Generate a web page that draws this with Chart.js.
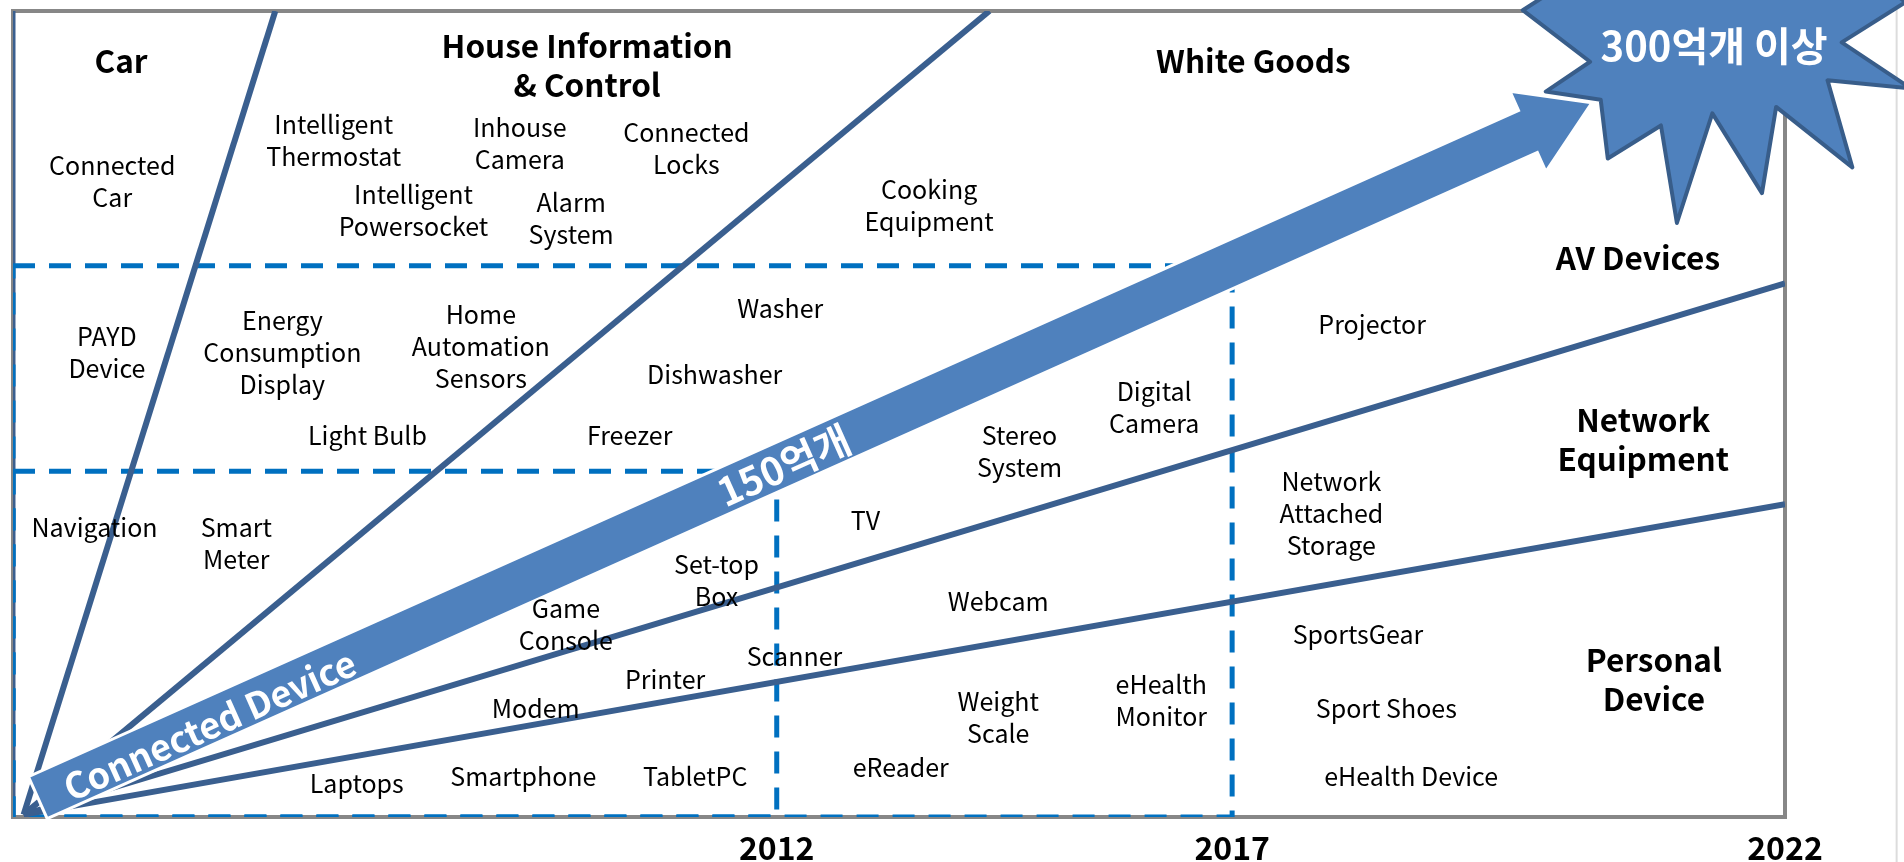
<!DOCTYPE html>
<html>
<head>
<meta charset="utf-8">
<script src="https://cdn.jsdelivr.net/npm/chart.js@4.4.1/dist/chart.umd.min.js"></script>
<style>
  html, body { margin: 0; padding: 0; background: #fff; }
  #wrap { width: 1904px; height: 862px; }
</style>
</head>
<body>
<div id="wrap"><canvas id="myChart"></canvas></div>
<script>
// both axes run 0..100 across the frame
const yearLabels = ['2012', '2017', '2022'];
const yearPos = [43.1, 68.8, 100];

// separator lines of the fan, from the common origin
const fanOrigin = [0.6, 0.3];
const fanEndX = [14.8, 55.1, 100, 100];
const fanEndY = [100, 100, 66.2, 38.8];

// dashed boxes (2012 and 2017 scope)
const boxTop = [68.4, 42.9];
const boxRight = [68.8, 43.1];

// segment titles
const segmentNames = ['Car', 'House Information\n& Control', 'White Goods', 'AV Devices', 'Network\nEquipment', 'Personal\nDevice'];
const segmentX = [6.1, 32.4, 70.0, 91.7, 92.0, 92.6];
const segmentY = [93.8, 93.2, 93.8, 69.4, 46.8, 17.0];

// devices
const deviceNames = [
  'Connected\nCar', 'Intelligent\nThermostat', 'Inhouse\nCamera', 'Connected\nLocks',
  'Intelligent\nPowersocket', 'Alarm\nSystem', 'Cooking\nEquipment', 'PAYD\nDevice',
  'Energy\nConsumption\nDisplay', 'Home\nAutomation\nSensors', 'Washer', 'Dishwasher',
  'Light Bulb', 'Freezer', 'Stereo\nSystem', 'Digital\nCamera', 'Projector',
  'Navigation', 'Smart\nMeter', 'TV', 'Set-top\nBox', 'Webcam', 'Network\nAttached\nStorage',
  'Game\nConsole', 'Printer', 'Scanner', 'Modem', 'SportsGear', 'Weight\nScale',
  'eHealth\nMonitor', 'Sport Shoes', 'Laptops', 'Smartphone', 'TabletPC', 'eReader', 'eHealth Device'
];
const deviceX = [
  5.6, 18.1, 28.6, 38.0,
  22.6, 31.5, 51.7, 5.3,
  15.2, 26.4, 43.3, 39.6,
  20.0, 34.8, 56.8, 64.4, 76.7,
  4.6, 12.6, 48.1, 39.7, 55.6, 74.4,
  31.2, 36.8, 44.1, 29.5, 75.9, 55.6,
  64.8, 77.5, 19.4, 28.8, 38.5, 50.1, 78.9
];
const deviceY = [
  78.9, 83.9, 83.6, 83.0,
  75.3, 74.3, 75.9, 57.6,
  57.6, 58.4, 63.1, 54.9,
  47.3, 47.3, 45.3, 50.8, 61.1,
  35.9, 33.9, 36.8, 29.3, 26.7, 37.6,
  23.9, 17.1, 19.9, 13.5, 22.7, 12.4,
  14.4, 13.4, 4.1, 5.0, 5.0, 6.1, 5.0
];

// growth arrow and its labels
const arrowFrom = [1.4, 2.4];
const arrowTo = [89.1, 88.6];
const growthLabels = ['Connected Device', '150억개'];
const growthX = [11.1, 43.5];
const growthY = [11.4, 43.6];

// burst shape in the top right corner
const burstX = [85.2, 89.0, 86.5, 89.6, 90.0, 93.0, 93.9, 95.9, 98.7, 99.5, 103.8, 102.4, 107.1, 103.2, 106.8, 104.8, 100.3, 96.3, 91.8, 87.9];
const burstY = [100.1, 93.7, 90.0, 89.0, 81.7, 85.8, 73.7, 87.3, 77.4, 88.1, 80.6, 91.4, 90.4, 96.1, 101.1, 104.5, 106.3, 103.2, 106.3, 103.9];
const burstLabel = '300억개 이상';
const burstLabelPos = [96.0, 95.7];

const slideEdge = 106.3;

const FONT = "'Noto Sans CJK KR', 'Noto Sans', sans-serif";
Chart.defaults.font.family = FONT;

const LINE_BLUE = '#3A5F8F';
const FILL_BLUE = '#4F81BD';
const DASH_BLUE = '#0070C0';

const datasets = [];

// left edge line
datasets.push({
  type: 'line', data: [{x: 0, y: 0}, {x: 0, y: 100}],
  borderColor: LINE_BLUE, borderWidth: 5, pointRadius: 0, order: 6
});

// dashed scope boxes
boxTop.forEach((top, i) => {
  datasets.push({
    type: 'line',
    data: [{x: 0, y: top}, {x: boxRight[i], y: top}, {x: boxRight[i], y: 0}, {x: 0, y: 0}, {x: 0, y: top}],
    borderColor: DASH_BLUE, borderWidth: 5, borderDash: [22, 14], pointRadius: 0, order: 5
  });
});

// fan separators
fanEndX.forEach((x, i) => {
  datasets.push({
    type: 'line',
    data: [{x: fanOrigin[0], y: fanOrigin[1]}, {x: x, y: fanEndY[i]}],
    borderColor: LINE_BLUE, borderWidth: 6, pointRadius: 0, order: 4
  });
});

// label anchors (text drawn by plugin)
datasets.push({
  type: 'line', showLine: false, pointRadius: 0, order: 1,
  data: segmentX.map((x, i) => ({x: x, y: segmentY[i]})),
  texts: segmentNames, textFont: 'bold 31.5px ' + FONT, lineGap: 39
});
datasets.push({
  type: 'line', showLine: false, pointRadius: 0, order: 1,
  data: deviceX.map((x, i) => ({x: x, y: deviceY[i]})),
  texts: deviceNames, textFont: '25px ' + FONT, lineGap: 32
});

function drawLines(ctx, text, cx, cy, gap) {
  const lines = text.split('\n');
  const y0 = cy - (lines.length - 1) * gap / 2;
  lines.forEach((l, k) => ctx.fillText(l, cx, y0 + k * gap));
}

const framePlugin = {
  id: 'frame',
  beforeDatasetsDraw(chart) {
    const {ctx, chartArea: a} = chart;
    ctx.save();
    ctx.strokeStyle = '#878787';
    ctx.lineWidth = 4;
    ctx.strokeRect(a.left, a.top, a.right - a.left, a.bottom - a.top);
    const ex = chart.scales.x.getPixelForValue(slideEdge);
    ctx.strokeStyle = '#dcdcdc';
    ctx.lineWidth = 2;
    ctx.beginPath();
    ctx.moveTo(ex, 0);
    ctx.lineTo(ex, chart.height);
    ctx.stroke();
    ctx.restore();
  }
};

const overlayPlugin = {
  id: 'overlay',
  afterDatasetsDraw(chart) {
    const ctx = chart.ctx;
    const xs = chart.scales.x, ys = chart.scales.y;
    const P = (x, y) => ({x: xs.getPixelForValue(x), y: ys.getPixelForValue(y)});
    ctx.save();

    // burst
    ctx.beginPath();
    burstX.forEach((x, i) => {
      const p = P(x, burstY[i]);
      if (i === 0) ctx.moveTo(p.x, p.y); else ctx.lineTo(p.x, p.y);
    });
    ctx.closePath();
    ctx.fillStyle = FILL_BLUE;
    ctx.fill();
    ctx.strokeStyle = '#385D8A';
    ctx.lineWidth = 4;
    ctx.lineJoin = 'round';
    ctx.stroke();

    // growth arrow
    const p0 = P(arrowFrom[0], arrowFrom[1]);
    const p1 = P(arrowTo[0], arrowTo[1]);
    const len = Math.hypot(p1.x - p0.x, p1.y - p0.y);
    const ux = (p1.x - p0.x) / len, uy = (p1.y - p0.y) / len;
    const nx = -uy, ny = ux;
    const shaft = 23, head = 44, headLen = 70;
    const bx = p1.x - ux * headLen, by = p1.y - uy * headLen;
    ctx.beginPath();
    ctx.moveTo(p0.x + nx * shaft, p0.y + ny * shaft);
    ctx.lineTo(bx + nx * shaft, by + ny * shaft);
    ctx.lineTo(bx + nx * head, by + ny * head);
    ctx.lineTo(p1.x, p1.y);
    ctx.lineTo(bx - nx * head, by - ny * head);
    ctx.lineTo(bx - nx * shaft, by - ny * shaft);
    ctx.lineTo(p0.x - nx * shaft, p0.y - ny * shaft);
    ctx.closePath();
    ctx.fillStyle = FILL_BLUE;
    ctx.fill();
    ctx.strokeStyle = '#ffffff';
    ctx.lineWidth = 3;
    ctx.lineJoin = 'miter';
    ctx.stroke();

    const ang = Math.atan2(p1.y - p0.y, p1.x - p0.x);
    ctx.fillStyle = '#ffffff';
    ctx.textAlign = 'center';
    ctx.textBaseline = 'middle';
    growthLabels.forEach((t, i) => {
      const p = P(growthX[i], growthY[i]);
      ctx.save();
      ctx.translate(p.x, p.y);
      ctx.rotate(ang);
      ctx.font = (i === 0 ? 'bold 36px ' : 'bold 39px ') + FONT;
      ctx.fillText(t, 0, 0);
      ctx.restore();
    });

    const bp = P(burstLabelPos[0], burstLabelPos[1]);
    ctx.font = 'bold 40px ' + FONT;
    ctx.fillText(burstLabel, bp.x, bp.y);

    // text labels
    ctx.fillStyle = '#000000';
    chart.data.datasets.forEach((ds, i) => {
      if (!ds.texts) return;
      const meta = chart.getDatasetMeta(i);
      ctx.font = ds.textFont;
      meta.data.forEach((pt, j) => drawLines(ctx, ds.texts[j], pt.x, pt.y, ds.lineGap));
    });
    ctx.restore();
  }
};

const ctx = document.getElementById('myChart').getContext('2d');
const myChart = new Chart(ctx, {
  type: 'line',
  data: { datasets: datasets },
  plugins: [framePlugin, overlayPlugin],
  options: {
    responsive: true,
    maintainAspectRatio: false,
    animation: false,
    layout: { padding: { left: 13, top: 11, right: 119, bottom: 0 } },
    plugins: { legend: { display: false }, tooltip: { enabled: false } },
    scales: {
      x: {
        type: 'linear', min: 0, max: 100,
        grid: { display: false, drawTicks: false },
        border: { display: false },
        afterBuildTicks: (scale) => { scale.ticks = yearPos.map(v => ({ value: v })); },
        afterFit: (scale) => { scale.height = 45; },
        ticks: {
          autoSkip: false, maxRotation: 0, padding: 12, color: '#000',
          font: { size: 32, weight: 'bold' },
          callback: (v, i) => yearLabels[i]
        }
      },
      y: { type: 'linear', min: 0, max: 100, display: false }
    }
  }
});
</script>
</body>
</html>
